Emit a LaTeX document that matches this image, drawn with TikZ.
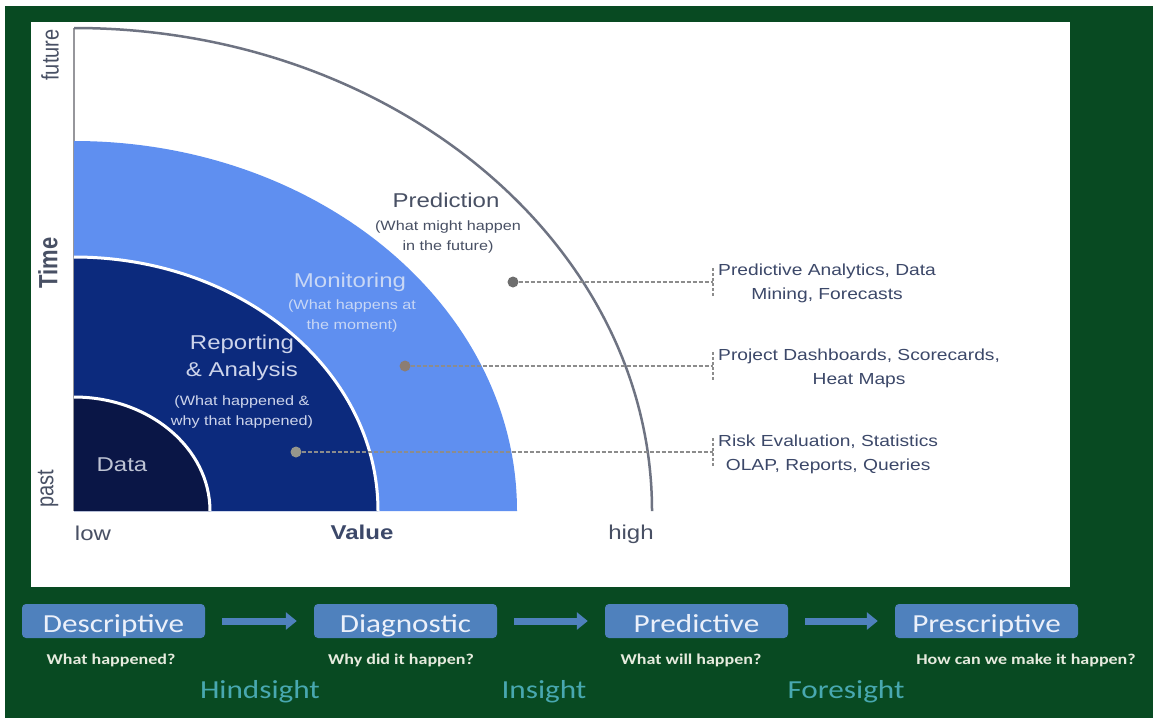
\documentclass[tikz,border=0pt]{standalone}
\usepackage{graphicx}
\usepackage{fontspec}
\setmainfont{Liberation Sans}
\newfontfamily\dfont[FakeStretch=1.2]{Liberation Sans}
\newfontfamily\rfont{Liberation Sans}
\newfontfamily\cfont[FakeStretch=1.2]{Carlito}
\usetikzlibrary{arrows.meta}
\definecolor{framegreen}{RGB}{8,74,34}
\definecolor{datacol}{RGB}{10,22,70}
\definecolor{repcol}{RGB}{12,42,125}
\definecolor{moncol}{RGB}{95,143,240}
\definecolor{arcgray}{RGB}{110,115,130}
\definecolor{axgray}{RGB}{150,150,155}
\definecolor{txtgray}{RGB}{72,80,100}
\definecolor{lbltxt}{RGB}{60,72,105}
\definecolor{montxt}{RGB}{200,215,245}
\definecolor{reptxt}{RGB}{205,212,235}
\definecolor{datatxt}{RGB}{190,196,212}
\definecolor{dashgray}{RGB}{140,140,140}
\definecolor{dotA}{RGB}{110,110,110}
\definecolor{dotB}{RGB}{140,125,115}
\definecolor{dotC}{RGB}{150,150,140}
\definecolor{boxblue}{RGB}{79,129,189}
\definecolor{boxtxt}{RGB}{235,240,250}
\definecolor{qtxt}{RGB}{230,235,222}
\definecolor{teal}{RGB}{72,168,176}
\begin{document}
\begin{tikzpicture}[x=1pt,y=-1pt,
  dotnode/.style={circle,inner sep=0pt,minimum size=11pt},
  dashline/.style={dashgray,line width=1.5pt,dash pattern=on 4pt off 2pt},
  rlabel/.style={anchor=west,align=center,inner sep=2pt,text=lbltxt,font=\dfont\fontsize{16}{24}\selectfont},
  bigtxt/.style={align=center,inner sep=0pt,font=\dfont\fontsize{20}{27}\selectfont},
  subtxt/.style={align=center,inner sep=0pt,font=\dfont\fontsize{13.5}{20}\selectfont},
  axtxt/.style={inner sep=0pt,text=txtgray,font=\dfont\fontsize{20}{24}\selectfont},
  rottxt/.style={inner sep=0pt,rotate=90,text=txtgray,font=\rfont\fontsize{20}{24}\selectfont},
  stagebox/.style={fill=boxblue,rounded corners=4pt,minimum width=183pt,minimum height=34pt,inner sep=0pt,text height=24pt,text depth=2pt,text=boxtxt,font=\cfont\fontsize{26}{30}\selectfont},
  stagearrow/.style={boxblue,line width=7pt,-{Triangle[length=11pt,width=17pt]},shorten <=17pt,shorten >=17pt},
  qlabel/.style={inner sep=0pt,text=qtxt,font=\cfont\bfseries\fontsize{15}{18}\selectfont},
  sightlabel/.style={inner sep=0pt,text=teal,font=\cfont\fontsize{26}{30}\selectfont}
]
\useasboundingbox (0,0) rectangle (1153,718);
\fill[white] (0,0) rectangle (1153,718);
\fill[framegreen] (5,6) rectangle (1153,718);
\fill[white] (31,22) rectangle (1070,587);

% axis and outer arc
\draw[axgray,line width=1.5pt] (74,28) -- (74,511);
\draw[arcgray,line width=2.5pt] (74,28) arc[start angle=90,end angle=0,x radius=578pt,y radius=483pt];

% filled quadrants
\fill[moncol] (74,511) -- (74,141) arc[start angle=90,end angle=0,x radius=443pt,y radius=370pt] -- cycle;
\fill[repcol] (74,511) -- (74,257) arc[start angle=90,end angle=0,x radius=304pt,y radius=254pt] -- cycle;
\draw[white,line width=3pt] (74,257) arc[start angle=90,end angle=0,x radius=304pt,y radius=254pt];
\fill[datacol] (74,511) -- (74,397) arc[start angle=90,end angle=0,x radius=136pt,y radius=114pt] -- cycle;
\draw[white,line width=3pt] (74,397) arc[start angle=90,end angle=0,x radius=136pt,y radius=114pt];

% labels in the quadrant
\node[bigtxt,text=txtgray] (predT) at (446,200) {Prediction};
\node[subtxt,text=txtgray] (predS) at (448,237) {(What might happen\\in the future)};
\node[bigtxt,text=montxt] (monT) at (350,282) {Monitoring};
\node[subtxt,text=montxt] (monS) at (352,316) {(What happens at\\the moment)};
\node[bigtxt,text=reptxt] (repT) at (242,358) {Reporting\\\& Analysis};
\node[subtxt,text=reptxt] (repS) at (242,412.5) {(What happened \&\\why that happened)};
\node[bigtxt,text=datatxt] (dataT) at (122,465) {Data};

% axes labels
\node[rottxt] (future) at (50,55) {\scalebox{1}[1.2]{future}};
\node[rottxt,font=\rfont\bfseries\fontsize{22}{24}\selectfont] (time) at (48,263) {\scalebox{1}[1.2]{Time}};
\node[rottxt] (past) at (48,489) {\scalebox{1}[1.2]{past}};
\node[axtxt] (low) at (93,533) {low};
\node[axtxt,font=\dfont\bfseries\fontsize{20}{24}\selectfont,text=lbltxt] (value) at (362,532) {Value};
\node[axtxt] (high) at (631,534) {high};

% dots and leaders
\node[dotnode,fill=dotA] (d1) at (513,282) {};
\node[dotnode,fill=dotB] (d2) at (405,366) {};
\node[dotnode,fill=dotC] (d3) at (296,452) {};
\coordinate (t1) at (713,282);
\coordinate (t2) at (713,366);
\coordinate (t3) at (713,452);
\draw[dashline] (d1) -- (t1);
\draw[dashline] (d2) -- (t2);
\draw[dashline] (d3) -- (t3);
\foreach \t in {t1,t2,t3}{
  \draw[dashgray,line width=1.5pt,dash pattern=on 3pt off 2pt] ([yshift=14pt]\t) -- ([yshift=-14pt]\t);
}
\node[rlabel] (l1) at (716,283.5) {Predictive Analytics, Data\\Mining, Forecasts};
\node[rlabel] (l2) at (716,368.5) {Project Dashboards, Scorecards,\\Heat Maps};
\node[rlabel] (l3) at (716,454) {Risk Evaluation, Statistics\\OLAP, Reports, Queries};

% bottom stages
\node[stagebox] (desc) at (113.5,621) {Descriptive};
\node[stagebox] (diag) at (405.5,621) {Diagnostic};
\node[stagebox] (pred) at (696.5,621) {Predictive};
\node[stagebox] (presc) at (986.5,621) {Prescriptive};
\draw[stagearrow] (desc) -- (diag);
\draw[stagearrow] (diag) -- (pred);
\draw[stagearrow] (pred) -- (presc);

\node[qlabel] (q1) at (111,660) {What happened?};
\node[qlabel] (q2) at (401,660) {Why did it  happen?};
\node[qlabel] (q3) at (691,660) {What will happen?};
\node[qlabel] (q4) at (1026,660) {How can we make it happen?};

\node[sightlabel] (hind) at (260,692) {Hindsight};
\node[sightlabel] (ins) at (544,692) {Insight};
\node[sightlabel] (fore) at (846,692) {Foresight};
\end{tikzpicture}
\end{document}
